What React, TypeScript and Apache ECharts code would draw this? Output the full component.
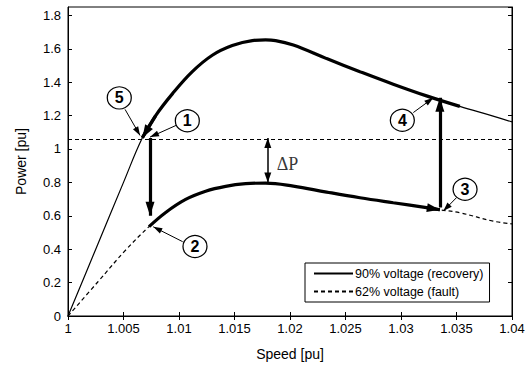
import React, { useEffect, useRef } from "react";
import * as echarts from "echarts";

// ---- Data ----
const recoverySpeed = [1.0, 1.0025, 1.005, 1.0067, 1.0079, 1.0094, 1.0112, 1.013, 1.0148, 1.0166, 1.0178, 1.0187, 1.0203, 1.0233, 1.0263, 1.0293, 1.0323, 1.0353, 1.0383, 1.04];
const recoveryPower = [0, 0.4, 0.8, 1.067, 1.2, 1.33, 1.463, 1.561, 1.619, 1.649, 1.653, 1.649, 1.622, 1.541, 1.463, 1.388, 1.318, 1.255, 1.197, 1.162];

const faultSpeed = [1.0, 1.0027, 1.0052, 1.0073, 1.0088, 1.0106, 1.0124, 1.0142, 1.016, 1.0178, 1.0203, 1.0233, 1.0263, 1.0293, 1.0323, 1.0335, 1.0353, 1.0383, 1.04];
const faultPower = [0, 0.205, 0.395, 0.535, 0.62, 0.698, 0.747, 0.776, 0.792, 0.796, 0.778, 0.742, 0.708, 0.678, 0.649, 0.636, 0.618, 0.568, 0.551];

// trajectory ranges (thick parts)
const recoveryTrajRange = [1.0067, 1.0353];
const faultTrajRange = [1.0073, 1.0335];

const refLevel = 1.065;

// numbered markers
const markerLabels = ["1", "2", "3", "4", "5"];
const markerSpeed = [1.01075, 1.01144, 1.03577, 1.03012, 1.00462];
const markerPower = [1.169, 0.416, 0.759, 1.172, 1.306];
// pointer arrows from marker to curve
const pointerFrom = [[1.00973, 1.141], [1.01033, 0.445], [1.03502, 0.71], [1.03111, 1.218], [1.00514, 1.237]];
const pointerTo = [[1.00739, 1.071], [1.00768, 0.534], [1.03381, 0.628], [1.03291, 1.306], [1.00649, 1.081]];

// transition arrows (1->2 and 3->4)
const transitionFrom = [[1.00739, 1.065], [1.0335, 0.649]];
const transitionTo = [[1.00739, 0.6], [1.0335, 1.306]];

// delta P arrow
const deltaPSpeed = 1.018;
const deltaPRange = [1.065, 0.8];
const deltaPLabelPos = [1.0188, 0.909];

const xTicks = { min: 1, max: 1.04, interval: 0.005 };
const yTicks = { min: 0, max: 1.85, interval: 0.2 };

const FONT = "'Liberation Sans', Arial, Helvetica, sans-serif";
// arrow head whose tip sits at the centre of its box (so the tip lands on the end point)
const HEAD = "path://M5,0 M5,10 L10,20 L0,20 Z";

function pairs(xs: number[], ys: number[]) {
  return xs.map((x, i) => [x, ys[i]]);
}

export default function App() {
  const ref = useRef<HTMLDivElement>(null);
  useEffect(() => {
    if (!ref.current) return;
    const chart = echarts.init(ref.current, null, { renderer: "svg" });

    const recovery = pairs(recoverySpeed, recoveryPower);
    const fault = pairs(faultSpeed, faultPower);
    const recTraj = recovery.filter((p) => p[0] >= recoveryTrajRange[0] && p[0] <= recoveryTrajRange[1]);
    const faultTraj = fault.filter((p) => p[0] >= faultTrajRange[0] && p[0] <= faultTrajRange[1]);

    const axisLabelStyle = { color: "#000", fontSize: 13, fontFamily: FONT };

    const option: any = {
      animation: false,
      backgroundColor: "#fff",
      grid: { left: 68, right: 18, top: 7, bottom: 44, show: true, borderColor: "#000", borderWidth: 1 },
      legend: {
        data: ["90% voltage (recovery)", "62% voltage (fault)"],
        orient: "vertical",
        left: 305,
        top: 263,
        itemWidth: 39,
        itemHeight: 12,
        itemGap: 5,
        padding: [4, 6, 4, 8],
        borderColor: "#000",
        borderWidth: 1,
        backgroundColor: "#fff",
        itemStyle: { opacity: 0 },
        textStyle: { color: "#000", fontSize: 12.5, fontFamily: FONT, padding: [0, 0, 0, -3] },
        selectedMode: false,
      },
      xAxis: [
        {
          type: "value",
          ...xTicks,
          position: "bottom",
          name: "Speed [pu]",
          nameLocation: "middle",
          nameGap: 31,
          nameTextStyle: { color: "#000", fontSize: 14, fontFamily: FONT },
          axisLine: { show: true, lineStyle: { color: "#000" } },
          axisTick: { show: true, inside: true, length: 4, lineStyle: { color: "#000" } },
          axisLabel: { ...axisLabelStyle, margin: 6, formatter: (v: number) => String(+v.toFixed(3)) },
          splitLine: { show: false },
        },
        {
          type: "value",
          ...xTicks,
          position: "top",
          axisLine: { show: true, lineStyle: { color: "#000" } },
          axisTick: { show: true, inside: true, length: 4, lineStyle: { color: "#000" } },
          axisLabel: { show: false },
          splitLine: { show: false },
        },
      ],
      yAxis: [
        {
          type: "value",
          ...yTicks,
          position: "left",
          name: "Power [pu]",
          nameLocation: "middle",
          nameGap: 40,
          nameRotate: 90,
          nameTextStyle: { color: "#000", fontSize: 14, fontFamily: FONT },
          axisLine: { show: true, lineStyle: { color: "#000" } },
          axisTick: { show: true, inside: true, length: 4, lineStyle: { color: "#000" } },
          axisLabel: { ...axisLabelStyle, margin: 7, showMaxLabel: false, formatter: (v: number) => String(+v.toFixed(2)) },
          splitLine: { show: false },
        },
        {
          type: "value",
          ...yTicks,
          position: "right",
          axisLine: { show: true, lineStyle: { color: "#000" } },
          axisTick: { show: true, inside: true, length: 4, lineStyle: { color: "#000" } },
          axisLabel: { show: false },
          splitLine: { show: false },
        },
      ],
      series: [
        {
          name: "90% voltage (recovery)",
          type: "line",
          data: recovery,
          smooth: 0.4,
          symbol: "none",
          color: "#000",
          lineStyle: { color: "#000", width: 1.2 },
          z: 2,
          markLine: {
            silent: true,
            symbol: "none",
            label: { show: false },
            lineStyle: { color: "#000", width: 1, type: [4, 3] },
            data: [{ yAxis: refLevel }],
          },
        },
        {
          name: "62% voltage (fault)",
          type: "line",
          data: fault,
          smooth: 0.4,
          symbol: "none",
          color: "#000",
          lineStyle: { color: "#000", width: 1.2, type: [4, 3] },
          z: 2,
        },
        {
          name: "recovery trajectory",
          type: "line",
          data: recTraj,
          smooth: 0.4,
          symbol: "none",
          lineStyle: { color: "#000", width: 3.2 },
          z: 3,
        },
        {
          name: "fault trajectory",
          type: "line",
          data: faultTraj,
          smooth: 0.4,
          symbol: "none",
          lineStyle: { color: "#000", width: 3.2 },
          z: 3,
        },
        {
          name: "trajectory heads",
          type: "lines",
          coordinateSystem: "cartesian2d",
          symbol: ["none", HEAD],
          symbolSize: [0, [9, 26]],
          lineStyle: { color: "#000", width: 3.2, opacity: 1 },
          z: 4,
          silent: true,
          data: [
            { coords: [recTraj[1], recTraj[0]] },
            { coords: [faultTraj[faultTraj.length - 2], faultTraj[faultTraj.length - 1]] },
          ],
        },
        {
          name: "transitions",
          type: "lines",
          coordinateSystem: "cartesian2d",
          symbol: ["none", HEAD],
          symbolSize: [0, [9, 28]],
          lineStyle: { color: "#000", width: 3.2, opacity: 1 },
          z: 4,
          silent: true,
          data: transitionFrom.map((f, i) => ({ coords: [f, transitionTo[i]] })),
        },
        {
          name: "delta P",
          type: "lines",
          coordinateSystem: "cartesian2d",
          symbol: [HEAD, HEAD],
          symbolSize: [[7, 20], [7, 20]],
          lineStyle: { color: "#000", width: 1.5, opacity: 1 },
          z: 4,
          silent: true,
          data: [{ coords: [[deltaPSpeed, deltaPRange[0]], [deltaPSpeed, deltaPRange[1]]] }],
        },
        {
          name: "pointers",
          type: "lines",
          coordinateSystem: "cartesian2d",
          symbol: ["none", HEAD],
          symbolSize: [0, [6, 18]],
          lineStyle: { color: "#000", width: 1, opacity: 1 },
          z: 4,
          silent: true,
          data: pointerFrom.map((f, i) => ({ coords: [f, pointerTo[i]] })),
        },
        {
          name: "markers",
          type: "scatter",
          symbol: "circle",
          symbolSize: [24, 22],
          itemStyle: { color: "#fff", borderColor: "#000", borderWidth: 1.2, opacity: 1 },
          label: {
            show: true,
            position: "inside",
            formatter: (p: any) => p.value[2],
            color: "#000",
            fontSize: 16,
            fontWeight: "bold",
            fontFamily: FONT,
          },
          z: 5,
          silent: true,
          data: markerLabels.map((l, i) => [markerSpeed[i], markerPower[i], l]),
        },
        {
          name: "delta P label",
          type: "scatter",
          symbolSize: 0,
          label: {
            show: true,
            position: "right",
            distance: 0,
            formatter: "ΔP",
            color: "#000",
            fontSize: 18,
            fontFamily: "'Liberation Serif', 'Times New Roman', serif",
          },
          z: 5,
          silent: true,
          data: [deltaPLabelPos],
        },
      ],
    };

    chart.setOption(option);
    return () => chart.dispose();
  }, []);

  return (
    <div
      ref={ref}
      style={{ position: "fixed", left: 0, top: 0, width: 530, height: 366, background: "#fff" }}
    />
  );
}
